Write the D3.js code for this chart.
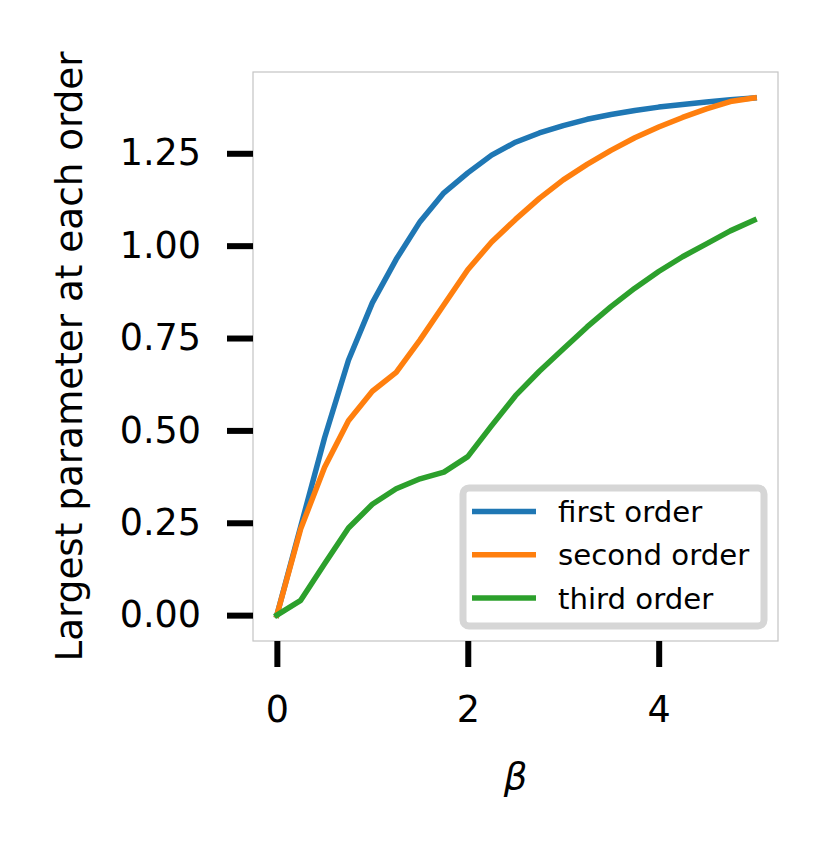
<!DOCTYPE html>
<html>
<head>
<meta charset="utf-8">
<script src="https://cdn.jsdelivr.net/npm/d3@7"></script>
<style>
  body { margin: 0; background: #fff; }
  text { font-family: "DejaVu Sans", sans-serif; }
</style>
</head>
<body>
<div id="chart"></div>
<script>
// beta values and the largest parameter at each order
const betas = [0, 0.25, 0.5, 0.75, 1, 1.25, 1.5, 1.75, 2, 2.25, 2.5, 2.75, 3, 3.25, 3.5, 3.75, 4, 4.25, 4.5, 4.75, 5];
const firstOrder = [0, 0.24, 0.48, 0.69, 0.845, 0.963, 1.065, 1.143, 1.197, 1.245, 1.28, 1.305, 1.325, 1.342, 1.355, 1.366, 1.375, 1.382, 1.389, 1.395, 1.40];
const secondOrder = [0, 0.234, 0.40, 0.526, 0.606, 0.657, 0.745, 0.84, 0.935, 1.01, 1.071, 1.128, 1.178, 1.22, 1.258, 1.292, 1.321, 1.347, 1.37, 1.39, 1.40];
const thirdOrder = [0, 0.04, 0.139, 0.236, 0.30, 0.342, 0.369, 0.387, 0.429, 0.513, 0.594, 0.66, 0.72, 0.78, 0.835, 0.885, 0.93, 0.97, 1.005, 1.04, 1.069];
const seriesNames = ["first order", "second order", "third order"];
const colors = ["#1f77b4", "#ff7f0e", "#2ca02c"];
const xTicks = [0, 2, 4];
const yTicks = [0, 0.25, 0.5, 0.75, 1.0, 1.25];

const width = 832;
const height = 857;
const margin = { top: 72, right: 54, bottom: 216, left: 253 };
const w = width - margin.left - margin.right;
const h = height - margin.top - margin.bottom;

const svg = d3.select("#chart")
    .append("svg")
    .attr("width", width)
    .attr("height", height);

const g = svg.append("g")
    .attr("transform", `translate(${margin.left},${margin.top})`);

const x = d3.scaleLinear().domain([-0.25, 5.25]).range([0, w]);
const y = d3.scaleLinear().domain([-0.07, 1.47]).range([h, 0]);

// frame
g.append("rect")
    .attr("width", w)
    .attr("height", h)
    .attr("fill", "none")
    .attr("stroke", "#c4c4c4")
    .attr("stroke-width", 1.2);

const xAxis = g.append("g")
    .attr("transform", `translate(0,${h})`)
    .call(d3.axisBottom(x).tickValues(xTicks).tickSize(26).tickPadding(29).tickFormat(d3.format("d")));

const yAxis = g.append("g")
    .call(d3.axisLeft(y).tickValues(yTicks).tickSize(26).tickPadding(26).tickFormat(d3.format(".2f")));

[xAxis, yAxis].forEach(ax => {
    ax.select(".domain").remove();
    ax.selectAll("line").attr("stroke", "#000").attr("stroke-width", 6);
    ax.selectAll("text")
        .attr("fill", "#000")
        .style("font-family", "DejaVu Sans")
        .style("font-size", "36.5px");
});

const series = [firstOrder, secondOrder, thirdOrder];
const line = d3.line()
    .x((d, i) => x(betas[i]))
    .y(d => y(d));

series.forEach((s, k) => {
    g.append("path")
        .datum(s)
        .attr("fill", "none")
        .attr("stroke", colors[k])
        .attr("stroke-width", 5.5)
        .attr("stroke-linejoin", "round")
        .attr("stroke-linecap", "square")
        .attr("d", line);
});

// axis titles
svg.append("text")
    .attr("x", margin.left + w / 2)
    .attr("y", 789)
    .attr("text-anchor", "middle")
    .style("font-size", "37px")
    .style("font-style", "italic")
    .text("β");

svg.append("text")
    .attr("transform", `translate(82,${margin.top + h / 2}) rotate(-90)`)
    .attr("text-anchor", "middle")
    .style("font-size", "37.3px")
    .text("Largest parameter at each order");

// legend
const legend = svg.append("g").attr("transform", "translate(463,488)");
legend.append("rect")
    .attr("width", 301)
    .attr("height", 138)
    .attr("rx", 6)
    .attr("fill", "#fff")
    .attr("stroke", "#d6d6d6")
    .attr("stroke-width", 7);

seriesNames.forEach((name, k) => {
    const ly = 23.5 + k * 43.3;
    legend.append("line")
        .attr("x1", 9).attr("x2", 73)
        .attr("y1", ly).attr("y2", ly)
        .attr("stroke", colors[k])
        .attr("stroke-width", 5.5);
    legend.append("text")
        .attr("x", 95)
        .attr("y", ly + 10.5)
        .style("font-size", "29.2px")
        .text(name);
});
</script>
</body>
</html>
